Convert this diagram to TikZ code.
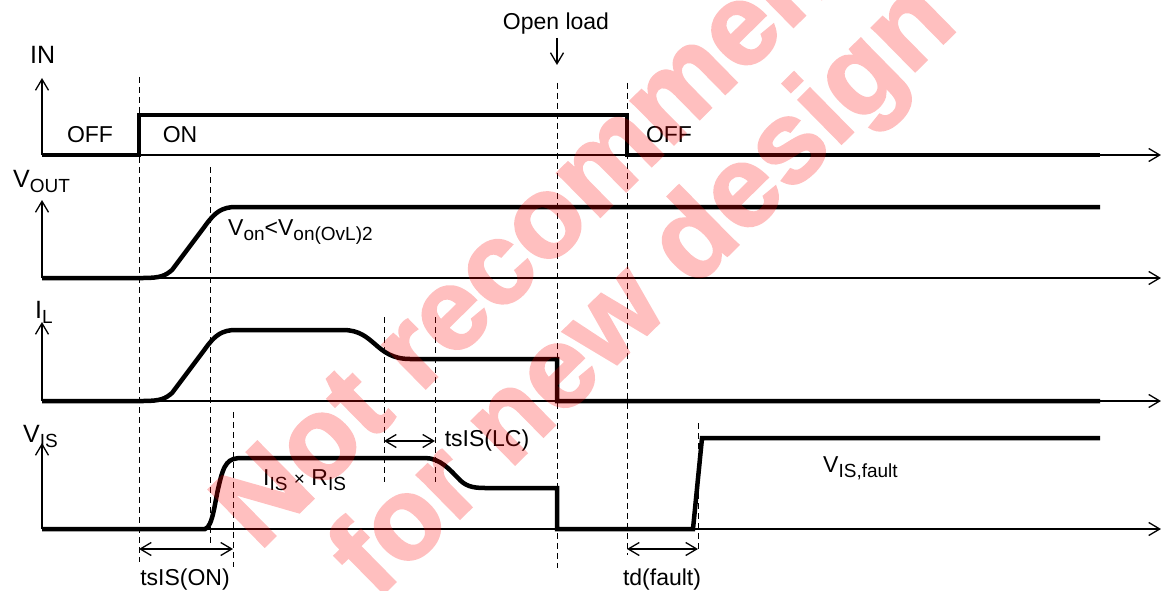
\documentclass[tikz,border=0pt]{standalone}
\usepackage{fontspec}
\setmainfont{Liberation Sans}
\newfontfamily\wmfont[FakeBold=2]{Liberation Sans Bold}
\usetikzlibrary{arrows.meta}
\newcommand{\sbs}[1]{\raisebox{-5pt}{\fontsize{19}{19}\selectfont #1}}
\begin{document}
\begin{tikzpicture}[x=1pt,y=-1pt,
  barb/.tip={Straight Barb[length=11pt,width=13pt,line width=1.3pt]},
  axis/.style={line width=1.3pt,-barb},
  sig/.style={line width=4.5pt,line join=miter},
  guide/.style={line width=0.9pt,dash pattern=on 6pt off 4pt},
  span/.style={line width=1.3pt,barb-barb},
  pointer/.style={line width=1.3pt,-barb},
  lbl/.style={font=\fontsize{23}{23}\selectfont,inner sep=0pt},
  ax/.style={font=\fontsize{25}{25}\selectfont,inner sep=0pt,anchor=base west},
  wm/.style={font=\wmfont\fontsize{116}{116}\selectfont,text=red,rotate=44.5,anchor=base west,inner sep=0pt}
]
\useasboundingbox (0,0) rectangle (1161,591);
\clip (0,0) rectangle (1161,591);
% axes
\coordinate (in0) at (42,155);
\coordinate (vo0) at (42,278);
\coordinate (il0) at (42,401);
\coordinate (vi0) at (42,529);
\foreach \c/\t in {in0/78,vo0/200,il0/322,vi0/443}{
  \draw[axis] (\c) -- (\c -| 1161,0);
  \draw[axis] (\c) -- (42,\t);
}
% guide lines
\draw[guide] (139,77) -- (139,562);
\draw[guide] (210,167) -- (210,543);
\draw[guide] (233,412) -- (233,567);
\draw[guide] (384,317) -- (384,482);
\draw[guide] (435,317) -- (435,482);
\draw[guide] (557,83) -- (557,568);
\draw[guide] (627,83) -- (627,555);
\draw[guide] (698,423) -- (698,552);
% signals
\draw[sig] (in0) -- (139,155) -- (139,115) -- (627,115) -- (627,155) -- (1100,155);
\draw[sig] (vo0) -- (143,278) .. controls (160,278) and (165,276) .. (172,270)
  -- (205,226) .. controls (215,212) and (222,207) .. (236,207) -- (1100,207);
\draw[sig] (il0) -- (143,401) .. controls (160,401) and (165,399) .. (172,393)
  -- (205,349) .. controls (215,335) and (222,330) .. (236,330) -- (343,330)
  .. controls (375,330) and (375,359) .. (410,359) -- (557,359) -- (557,401) -- (1100,401);
\draw[sig] (vi0) -- (205,529) .. controls (213,527) and (215,500) .. (219,485)
  .. controls (224,463) and (228,458) .. (242,458) -- (425,458)
  .. controls (440,458) and (450,470) .. (458,478) .. controls (465,486) and (472,488) .. (485,488)
  -- (557,488) -- (557,529) -- (693,529) -- (702,438) -- (1100,438);
% labels
\node[ax] (inlbl) at (30,64) {IN};
\node[ax] (voutlbl) at (13,187) {V\sbs{OUT}};
\node[ax] (illbl) at (35,318) {I\sbs{L}};
\node[ax] (vislbl) at (23,442) {V\sbs{IS}};
\node[lbl] (off1) at (90,135) {OFF};
\node[lbl] (on) at (180,135) {ON};
\node[lbl] (off2) at (669,135) {OFF};
\node[lbl,anchor=base] (open) at (556,30) {Open load};
\draw[pointer] ([yshift=-3pt]open.south -| 557,0) -- (557,65);
\node[lbl,anchor=base west] (von) at (228,235) {V\sbs{on}<V\sbs{on(OvL)2}};
\node[lbl,anchor=base west] (iris) at (263,485) {I\sbs{IS} {\fontsize{19}{19}\selectfont ×} R\sbs{IS}};
\node[lbl,anchor=base west] (visf) at (823,472) {V\sbs{IS,fault}};
\node[lbl] (tslc) at (487,441) {tsIS(LC)};
\node[lbl] (tson) at (185,580) {tsIS(ON)};
\node[lbl] (tdf) at (662,580) {td(fault)};
\coordinate (a1) at (139,549); \coordinate (a2) at (233,549);
\coordinate (b1) at (384,441); \coordinate (b2) at (435,441);
\coordinate (c1) at (627,549); \coordinate (c2) at (698,549);
\draw[span] (a1) -- (a2);
\draw[span] (b1) -- (b2);
\draw[span] (c1) -- (c2);
% watermark
\begin{scope}[transparency group,opacity=0.25]
  \node[wm] (wm1) at (259,552) {Not recommended};
  \node[wm] (wm2) at (376,601) {for new design};
\end{scope}
\end{tikzpicture}
\end{document}
